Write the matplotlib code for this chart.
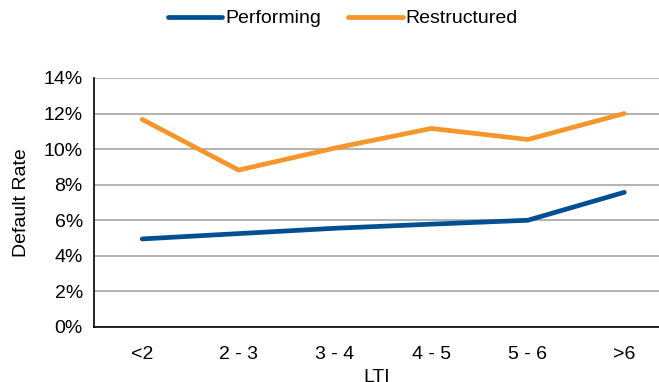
import numpy as np
import matplotlib
matplotlib.use("Agg")
import matplotlib.pyplot as plt
from matplotlib.ticker import PercentFormatter

plt.rcParams['font.family'] = ['Liberation Sans', 'DejaVu Sans']

categories = ['<2', '2 - 3', '3 - 4', '4 - 5', '5 - 6', '>6']
performing = [4.95, 5.25, 5.55, 5.78, 6.0, 7.57]
restructured = [11.67, 8.82, 10.06, 11.16, 10.54, 12.0]

fig = plt.figure(figsize=(6.59, 3.82), dpi=100)
ax = fig.add_axes([0.1426, 0.144, 0.8574, 0.652])

x = np.arange(len(categories))
ax.plot(x, performing, color='#004F93', lw=3.4, solid_capstyle='round', label='Performing')
ax.plot(x, restructured, color='#F5962B', lw=3.4, solid_capstyle='round', label='Restructured')

ax.set_xlim(-0.5, 5.36)
ax.set_ylim(0, 14)
ax.set_yticks(np.arange(0, 15, 2))
ax.yaxis.set_major_formatter(PercentFormatter(decimals=0))
ax.set_xticks(x)
ax.set_xticklabels(categories)
ax.tick_params(length=0, labelsize=14, colors='black')
ax.tick_params(axis='x', pad=14)
ax.tick_params(axis='y', pad=8)
ax.grid(axis='y', color='#A6A6A6', lw=1.2)
ax.set_axisbelow(True)
for s in ['top', 'right']:
    ax.spines[s].set_visible(False)
for s in ['left', 'bottom']:
    ax.spines[s].set_color('black')
    ax.spines[s].set_linewidth(1.2)

ax.set_ylabel('Default Rate', fontsize=14, labelpad=10)
ax.set_xlabel('LTI', fontsize=14, labelpad=4)

fig.legend(loc='upper center', bbox_to_anchor=(0.52, 1.02), ncol=2, frameon=False,
           fontsize=14, handlelength=2.8, handletextpad=0.15, columnspacing=1.4)

fig.savefig('out.png', dpi=100)
